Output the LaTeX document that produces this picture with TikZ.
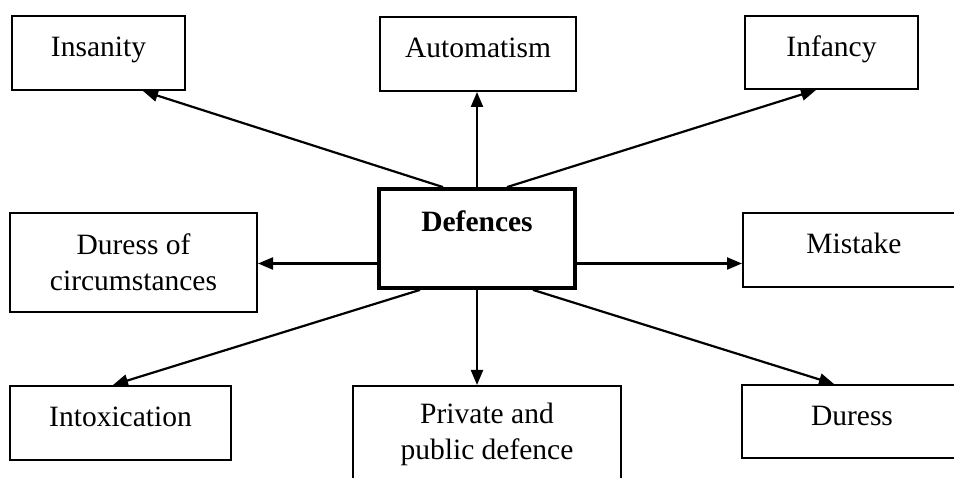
\documentclass[tikz,border=0pt]{standalone}
\usepackage{fontspec}
\setmainfont{Liberation Serif}
\usetikzlibrary{arrows.meta}

\tikzset{
    box/.style={draw, line width=2pt, inner sep=0pt, align=center},
    oneline/.style={text height=20pt, text depth=12pt},
    arr/.style={line width=2.2pt, -{Triangle[length=15pt,width=12pt]}}
}

\begin{document}
\begin{tikzpicture}[x=1pt, y=-1pt, font=\fontsize{29.5}{36}\selectfont]
    \useasboundingbox (0,0) rectangle (954,478);
    \clip (0,0) rectangle (954,478);

    % centre
    \node[box, line width=3.8pt, minimum width=196pt, minimum height=99pt,
          text height=20pt, text depth=33pt] (def) at (477,238.5) {\textbf{Defences}};

    % top row
    \node[box, oneline, minimum width=173pt, minimum height=74pt] (ins) at (98.5,53) {Insanity};
    \node[box, oneline, minimum width=196pt, minimum height=74pt] (aut) at (478,54) {Automatism};
    \node[box, oneline, minimum width=173pt, minimum height=73pt] (inf) at (831.5,52.5) {Infancy};

    % middle row
    \node[box, minimum width=247pt, minimum height=99pt] (doc) at (133.5,262.5) {Duress of\\circumstances};
    \node[box, oneline, minimum width=222pt, minimum height=74pt] (mis) at (854,250) {Mistake};

    % bottom row
    \node[box, oneline, minimum width=221pt, minimum height=74pt] (int) at (120.5,423) {Intoxication};
    \node[box, minimum width=268pt, minimum height=96pt] (pri) at (487,434) {Private and\\public defence};
    \node[box, oneline, minimum width=220pt, minimum height=73pt] (dur) at (852,421.5) {Duress};

    \draw[arr] ([xshift=-34pt]def.north) -- ([xshift=44.5pt]ins.south);
    \draw[arr] (def.north) -- (def.north |- aut.south);
    \draw[arr] ([xshift=30pt]def.north) -- ([xshift=-15.5pt]inf.south);

    \draw[arr] ([yshift=-25pt]def.west) -- ([yshift=-25pt]def.west -| doc.east);
    \draw[arr] ([yshift=-25pt]def.east) -- ([yshift=-25pt]def.east -| mis.west);

    \draw[arr] ([xshift=-57pt]def.south) -- ([xshift=-7.5pt]int.north);
    \draw[arr] (def.south) -- (def.south |- pri.north);
    \draw[arr] ([xshift=56pt]def.south) -- ([xshift=-18pt]dur.north);
\end{tikzpicture}
\end{document}
